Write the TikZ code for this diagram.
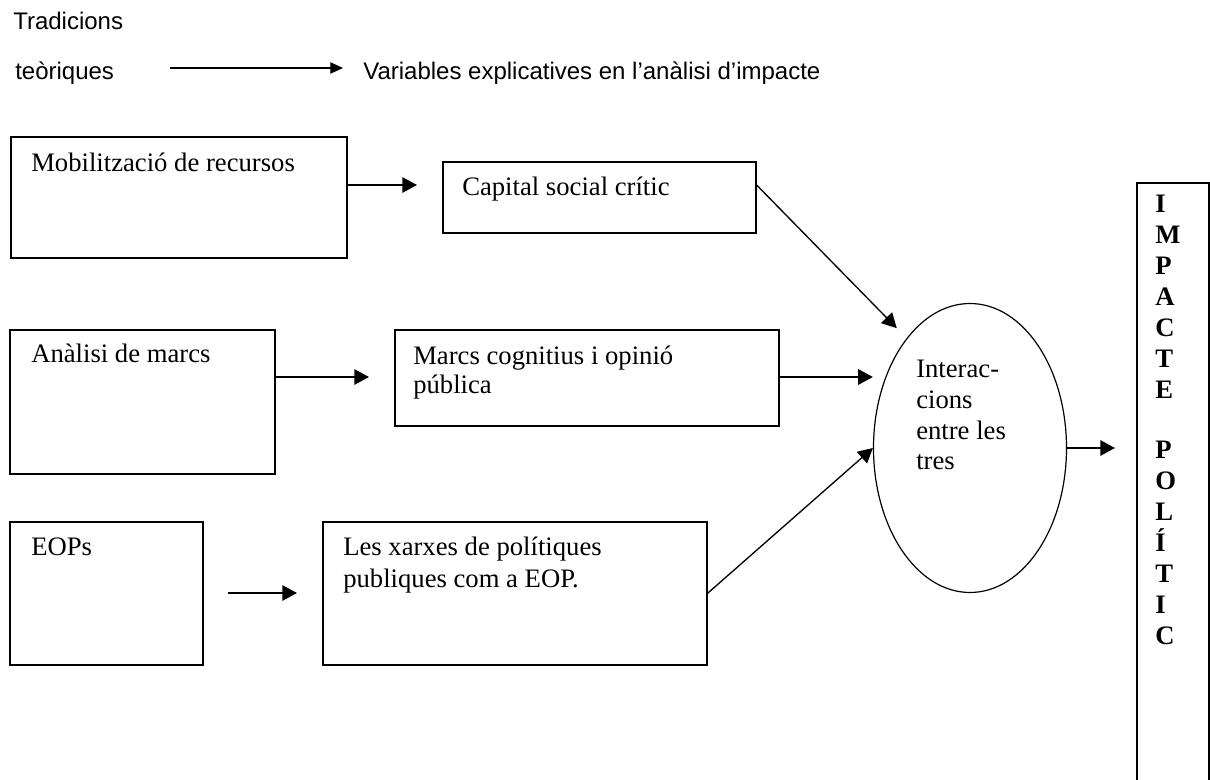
\documentclass[tikz,border=0pt]{standalone}
\usepackage{fontspec}
\setmainfont{Liberation Serif}
\newfontfamily\arialfont{Liberation Sans}
\usetikzlibrary{arrows.meta,shapes.geometric}
\newcommand{\stackl}[1]{\begin{tabular}[t]{@{}l@{}}#1\end{tabular}}
\tikzset{
  box/.style={draw, line width=1.2pt, rectangle, anchor=north west, inner sep=0pt},
  lbl/.style={anchor=base west, inner sep=0pt, font=\fontsize{20}{23}\selectfont},
  hdr/.style={anchor=base west, inner sep=0pt, font=\arialfont\fontsize{18}{21}\selectfont},
  arr/.style={-{Triangle[length=11pt,width=11.5pt]}, line width=1.3pt},
  thinarr/.style={-{Triangle[length=9.5pt,width=8.5pt]}, line width=0.8pt}
}

\begin{document}
\begin{tikzpicture}[x=0.75pt, y=-0.75pt]
  \clip (0,0) rectangle (1210,780);

  % Llegenda
  \node[hdr] (trad) at (13,30) {Tradicions};
  \node[hdr] (teo) at (15,80) {teòriques};
  \node[hdr] (var) at (363,80) {Variables explicatives en l’anàlisi d’impacte};
  \draw[thinarr, shorten <=42pt, shorten >=15pt] (teo.east |- 0,68) -- (var.west |- 0,68);

  % Mobilitzacio de recursos
  \node[box, minimum width=252pt, minimum height=90.75pt] (mob) at (10,136) {};
  \node[lbl] (mobtxt) at (31,172) {Mobilització de recursos};
  \node[box, minimum width=234.75pt, minimum height=53.25pt] (cap) at (442,161) {};
  \node[lbl] (captxt) at (462,196) {Capital social crític};

  % Analisi de marcs
  \node[box, minimum width=198.75pt, minimum height=108pt] (marcs) at (9,329) {};
  \node[lbl] (marcstxt) at (31,363) {Anàlisi de marcs};
  \node[box, minimum width=288pt, minimum height=72pt] (cogn) at (394,329) {};
  \node[lbl, font=\fontsize{20}{21}\selectfont] (cogntxt) at (413,365) {\stackl{Marcs cognitius i opinió\\pública}};

  % EOPs
  \node[box, minimum width=144.75pt, minimum height=107.25pt] (eop) at (9,521) {};
  \node[lbl] (eoptxt) at (31,555) {EOPs};
  \node[box, minimum width=288pt, minimum height=107.25pt] (xarx) at (322,521) {};
  \node[lbl, font=\fontsize{20}{24}\selectfont] (xarxtxt) at (343,555) {\stackl{Les xarxes de polítiques\\publiques com a EOP.}};

  % Interaccions
  \node[draw, ellipse, line width=0.9pt, inner sep=0pt, minimum width=144.75pt, minimum height=216.75pt] (inter) at (970,448) {};
  \node[lbl] (intertxt) at (916,378) {\stackl{Interac-\\cions\\entre les\\tres}};

  % Impacte politic
  \node[box, minimum width=54pt, minimum height=470pt] (imp) at (1136,182) {};
  \node[anchor=north west, inner sep=0pt, align=left, font=\bfseries\fontsize{20}{23.25}\selectfont] (imptxt) at (1155,195)
    {I\\M\\P\\A\\C\\T\\E\\[21.75pt]P\\O\\L\\Í\\T\\I\\C};

  % Fletxes
  \draw[arr, shorten >=18.75pt] (mob.east |- 0,185) -- (cap.west |- 0,185);
  \draw[arr, shorten >=18.75pt] (marcs.east |- 0,377) -- (cogn.west |- 0,377);
  \draw[arr, shorten <=18pt, shorten >=18.75pt] (eop.east |- 0,593) -- (xarx.west |- 0,593);
  \draw[arr] (cogn.east |- 0,377) -- (inter.west |- 0,377);
  \draw[arr, line width=1pt, shorten >=10.5pt] (cap.east |- 0,185) -- (inter.120);
  \draw[arr, line width=1pt] (xarx.east) -- (inter.west);
  \draw[arr, shorten >=15.75pt] (inter.east) -- (imp.west |- inter.east);
\end{tikzpicture}
\end{document}
